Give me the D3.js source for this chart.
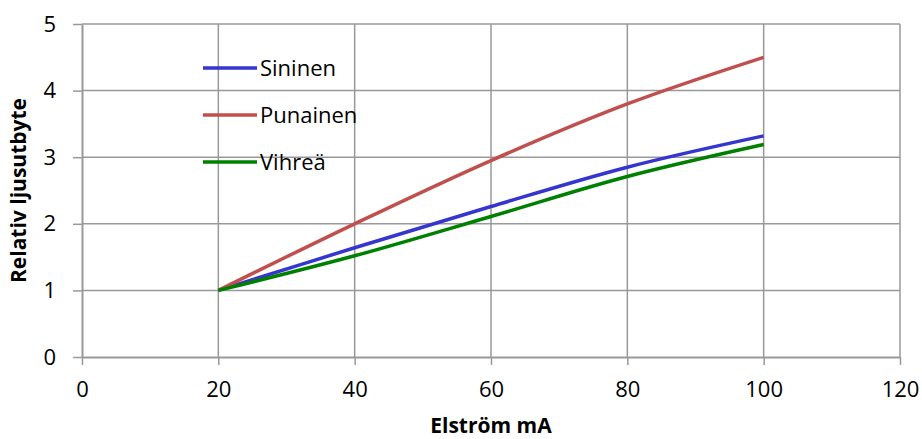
<!DOCTYPE html>
<html>
<head>
<meta charset="utf-8">
<script src="https://cdn.jsdelivr.net/npm/d3@7"></script>
<style>
  body { margin: 0; background: #fff; }
  svg { display: block; font-family: "Open Sans", sans-serif; }
</style>
</head>
<body>
<div id="chart"></div>
<script>
// data
const current = [20, 40, 60, 80, 100];
const sininen = [1, 1.64, 2.26, 2.85, 3.32];
const punainen = [1, 2.0, 2.95, 3.8, 4.5];
const vihrea = [1, 1.52, 2.11, 2.71, 3.19];
const xTicks = [0, 20, 40, 60, 80, 100, 120];
const yTicks = [0, 1, 2, 3, 4, 5];

const series = [
  { name: 'Sininen', values: sininen, color: '#3535d0' },
  { name: 'Punainen', values: punainen, color: '#c0504d' },
  { name: 'Vihreä', values: vihrea, color: '#008000' }
];

const W = 922, H = 439;
const margin = { top: 24, right: 22, bottom: 82, left: 82 };
const width = W - margin.left - margin.right;
const height = H - margin.top - margin.bottom;

const svg = d3.select('#chart').append('svg')
  .attr('width', W)
  .attr('height', H);

const g = svg.append('g')
  .attr('transform', `translate(${margin.left}, ${margin.top})`);

const x = d3.scaleLinear().domain([0, 120]).range([0, width]);
const y = d3.scaleLinear().domain([0, 5]).range([height, 0]);

const gridColor = '#999999';

// gridlines
g.append('g').selectAll('line.v')
  .data(xTicks.slice(1))
  .join('line')
  .attr('x1', d => x(d)).attr('x2', d => x(d))
  .attr('y1', 0).attr('y2', height)
  .attr('stroke', gridColor).attr('stroke-width', 1.5);

g.append('g').selectAll('line.h')
  .data(yTicks.slice(1))
  .join('line')
  .attr('x1', 0).attr('x2', width)
  .attr('y1', d => y(d)).attr('y2', d => y(d))
  .attr('stroke', gridColor).attr('stroke-width', 1.5);

// axes
const xAxis = d3.axisBottom(x)
  .tickValues(xTicks)
  .tickFormat(d3.format('d'))
  .tickSizeInner(8)
  .tickSizeOuter(0)
  .tickPadding(16);

const yAxis = d3.axisLeft(y)
  .tickValues(yTicks)
  .tickFormat(d3.format('d'))
  .tickSizeInner(9)
  .tickSizeOuter(0)
  .tickPadding(17);

const ax = g.append('g')
  .attr('transform', `translate(0, ${height})`)
  .call(xAxis);
const ay = g.append('g').call(yAxis);

[ax, ay].forEach(a => {
  a.selectAll('path').attr('stroke', gridColor).attr('stroke-width', 2);
  a.selectAll('line').attr('stroke', gridColor).attr('stroke-width', 1.5);
  a.selectAll('text')
    .attr('font-size', '22px')
    .attr('font-family', '"Open Sans", sans-serif')
    .attr('fill', '#000');
});

// lines
const line = d3.line()
  .x((d, i) => x(current[i]))
  .y(d => y(d))
  .curve(d3.curveCatmullRom.alpha(0.5));

g.selectAll('.series')
  .data(series)
  .join('path')
  .attr('class', 'series')
  .attr('d', d => line(d.values))
  .attr('fill', 'none')
  .attr('stroke', d => d.color)
  .attr('stroke-width', 3.5);

// legend
const legend = svg.append('g');
series.forEach((s, i) => {
  const ly = 68 + i * 47;
  legend.append('line')
    .attr('x1', 203).attr('x2', 257)
    .attr('y1', ly).attr('y2', ly)
    .attr('stroke', s.color)
    .attr('stroke-width', 3.5);
  legend.append('text')
    .attr('x', 260).attr('y', ly)
    .attr('dy', '0.35em')
    .attr('font-size', '22px')
    .text(s.name);
});

// axis titles
svg.append('text')
  .attr('x', margin.left + width / 2)
  .attr('y', 433)
  .attr('text-anchor', 'middle')
  .attr('font-size', '21px')
  .attr('font-weight', 'bold')
  .text('Elström mA');

svg.append('text')
  .attr('transform', `translate(26, ${margin.top + height / 2}) rotate(-90)`)
  .attr('text-anchor', 'middle')
  .attr('font-size', '21px')
  .attr('font-weight', 'bold')
  .text('Relativ ljusutbyte');
</script>
</body>
</html>
